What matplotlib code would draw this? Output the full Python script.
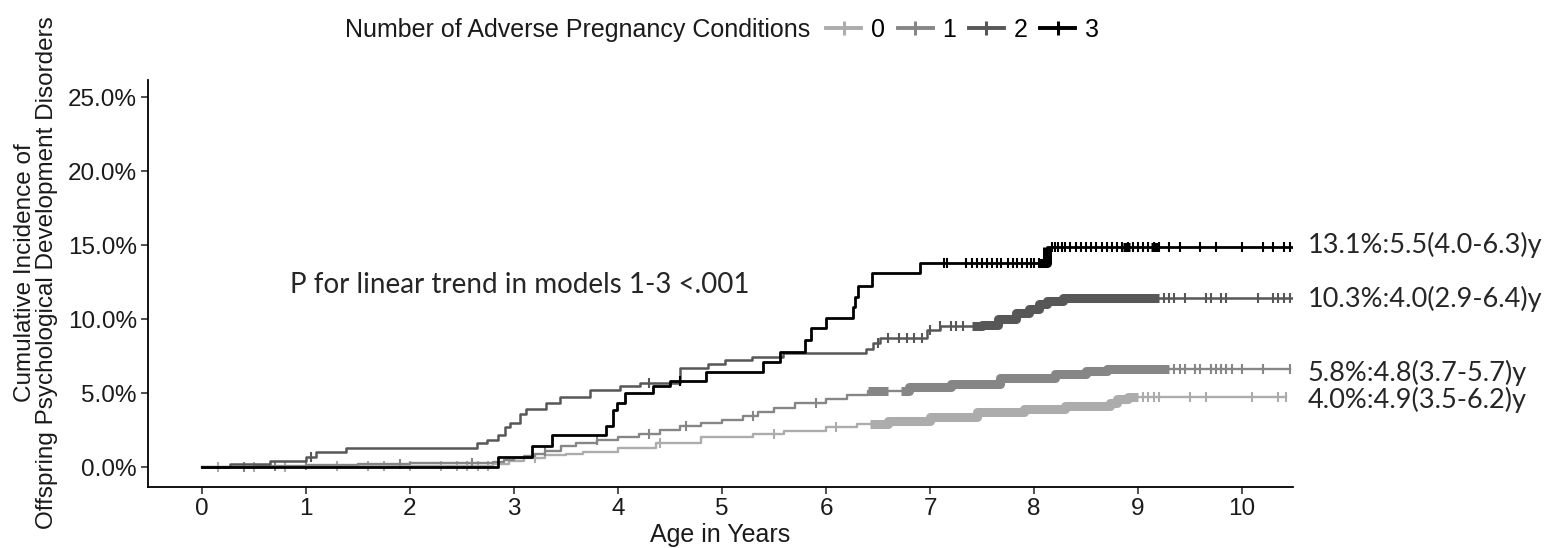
import numpy as np
import matplotlib
matplotlib.use("Agg")
import matplotlib.pyplot as plt
from matplotlib.lines import Line2D

plt.rcParams['font.family'] = ['Liberation Sans', 'DejaVu Sans']

# ---------------- data ----------------
groups = ["0", "1", "2", "3"]
colors = ["#acacac", "#868686", "#575757", "#000000"]
end_times = [10.42, 10.46, 10.48, 10.48]

t0 = [0, 1.0, 2.0, 2.8, 2.95, 3.1, 3.3, 3.5, 3.66, 4.0, 4.37, 4.8, 5.0, 5.3,
      5.6, 6.0, 6.3, 6.6, 7.0, 7.45, 7.9, 8.3, 8.73, 8.8, 8.9]
v0 = [0, 0.05, 0.1, 0.2, 0.4, 0.6, 0.8, 0.9, 1.0, 1.3, 1.6, 2.0, 2.05, 2.25,
      2.45, 2.7, 2.9, 3.1, 3.35, 3.7, 3.95, 4.1, 4.35, 4.6, 4.75]

t1 = [0, 0.5, 1.0, 1.5, 2.0, 2.5, 2.8, 2.9, 3.0, 3.1, 3.2, 3.3, 3.45, 3.6,
      3.8, 4.0, 4.2, 4.4, 4.6, 4.8, 5.0, 5.2, 5.35, 5.5, 5.7, 6.0, 6.2, 6.4,
      6.8, 7.2, 7.67, 8.2, 8.5, 8.7]
v1 = [0, 0.1, 0.15, 0.2, 0.25, 0.3, 0.35, 0.45, 0.6, 0.75, 0.9, 1.1, 1.4, 1.6,
      1.85, 2.05, 2.25, 2.5, 2.75, 3.0, 3.2, 3.45, 3.7, 4.0, 4.3, 4.6, 4.9, 5.15,
      5.4, 5.6, 6.0, 6.3, 6.5, 6.6]

t2 = [0, 0.27, 0.65, 1.0, 1.1, 1.38, 2.64, 2.74, 2.85, 2.91, 2.96, 3.06, 3.12,
      3.31, 3.44, 3.73, 4.02, 4.21, 4.6, 4.87, 5.03, 5.29, 5.59, 6.38, 6.45,
      6.52, 6.97, 7.1, 7.5, 7.65, 7.83, 7.95, 8.05, 8.12, 8.28]
v2 = [0, 0.2, 0.4, 0.7, 1.0, 1.3, 1.6, 1.8, 2.15, 2.7, 3.0, 3.6, 3.9,
      4.35, 4.75, 5.2, 5.45, 5.65, 6.7, 6.95, 7.2, 7.45, 7.7, 8.0, 8.4,
      8.7, 9.25, 9.5, 9.6, 10.0, 10.4, 10.7, 11.0, 11.2, 11.4]

t3 = [0, 2.85, 3.17, 3.37, 3.88, 3.95, 3.99, 4.07, 4.34, 4.5, 4.85, 5.39,
      5.56, 5.8, 5.86, 6.0, 6.26, 6.28, 6.31, 6.44, 6.9, 8.12]
v3 = [0, 0.7, 1.4, 2.15, 2.8, 3.85, 4.3, 5.0, 5.5, 5.8, 6.45, 7.1,
      7.8, 8.6, 9.4, 10.1, 10.8, 11.5, 12.2, 13.1, 13.8, 14.9]

times = [t0, t1, t2, t3]
values = [v0, v1, v2, v3]

# censoring ticks (individual) and dense censoring stretches
cens0 = [0.15, 0.5, 0.8, 1.3, 1.6, 1.75, 2.0, 2.3, 2.45, 2.55, 2.65, 2.75,
         3.2, 4.4, 5.5, 6.1, 9.05, 9.1, 9.15, 9.2, 9.5, 9.65, 10.1, 10.35, 10.42]
cens1 = [0.4, 0.7, 1.0, 1.9, 2.6, 3.3, 3.8, 4.3, 4.65, 5.3, 5.9, 9.35, 9.4,
         9.45, 9.55, 9.6, 9.7, 9.75, 9.8, 9.85, 9.9, 10.0, 10.2, 10.46]
cens2 = [1.05, 4.3, 6.5, 6.6, 6.7, 6.78, 6.85, 6.92, 7.0, 7.1, 7.2, 7.25, 7.32,
         9.25, 9.3, 9.35, 9.45, 9.65, 9.7, 9.8, 9.85, 10.15, 10.3, 10.35,
         10.4, 10.46]
cens3 = [4.6, 7.13, 7.16, 7.35, 7.4, 7.45, 7.5, 7.55, 7.6, 7.64, 7.68, 7.75,
         7.8, 7.84, 7.88, 7.93, 7.97, 8.0, 8.05, 8.1, 8.17, 8.2, 8.23, 8.27,
         8.3, 8.35, 8.4, 8.45, 8.5, 8.55, 8.6, 8.65, 8.7, 8.75, 8.8, 8.85,
         8.9, 8.95, 9.0, 9.05, 9.1, 9.15, 9.2, 9.3, 9.4, 9.6, 9.75, 10.0,
         10.2, 10.3, 10.4, 10.46]
censors = [cens0, cens1, cens2, cens3]
dense0 = [(6.42, 9.0)]
dense1 = [(6.4, 6.6), (6.72, 9.3)]
dense2 = [(7.4, 9.2)]
dense3 = [(8.05, 8.12), (8.86, 8.92), (9.12, 9.2)]
dense = [dense0, dense1, dense2, dense3]

median_labels = ["4.0%:4.9(3.5-6.2)y", "5.8%:4.8(3.7-5.7)y",
                 "10.3%:4.0(2.9-6.4)y", "13.1%:5.5(4.0-6.3)y"]
label_y = [4.53, 6.35, 11.35, 15.0]

p_text = "P for linear trend in models 1-3 <.001"
legend_title = "Number of Adverse Pregnancy Conditions"
x_title = "Age in Years"
y_title = "Cumulative Incidence of\nOffspring Psychological Development Disorders"
yticks = [0, 5, 10, 15, 20, 25]
xticks = list(range(0, 11))

# ---------------- figure ----------------
W, H = 1555, 548
fig = plt.figure(figsize=(W / 100, H / 100), dpi=100)
ax = fig.add_axes([148 / W, 1 - 487 / H, (1293 - 148) / W, (487 - 80) / H])
ax.set_xlim(-0.519, 10.49)
ax.set_ylim(-1.35, 26.15)


def step_val(ts, vs, t):
    i = np.searchsorted(ts, t, side='right') - 1
    return vs[max(i, 0)]


lws = [1.7, 1.7, 1.8, 2.0]
for g in range(4):
    ts = list(times[g]) + [end_times[g]]
    vs = list(values[g]) + [values[g][-1]]
    ax.step(ts, vs, where='post', color=colors[g], lw=lws[g], zorder=2 + g)
    # dense censoring bands
    for (a, b) in dense[g]:
        seg_t = [a] + [t for t in times[g] if a < t < b] + [b]
        seg_v = [step_val(times[g], values[g], t) for t in seg_t]
        ax.step(seg_t, seg_v, where='post', color=colors[g], lw=6.5,
                solid_capstyle='butt', zorder=2 + g)
    ct = np.array(censors[g])
    cv = [step_val(times[g], values[g], t) for t in ct]
    ax.plot(ct, cv, ls='none', marker='|', ms=7.5, mew=1.5, color=colors[g],
            zorder=2 + g)

for g in range(4):
    ax.text(10.63, label_y[g], median_labels[g], fontsize=19.5, family='Lato',
            color='#262626', va='center', ha='left', clip_on=False)

ax.text(0.846, 12.3, p_text, fontsize=20, family='Lato', color='#262626',
        va='center', ha='left')

for s in ['top', 'right']:
    ax.spines[s].set_visible(False)
for s in ['left', 'bottom']:
    ax.spines[s].set_linewidth(1.3)
    ax.spines[s].set_color('black')
ax.set_yticks(yticks)
ax.set_yticklabels([f"{v:.1f}%" for v in yticks])
ax.set_xticks(xticks)
ax.set_xticklabels([str(v) for v in xticks])
ax.tick_params(axis='both', length=5, width=1.2, color='#333333',
               labelsize=17.5, labelcolor='#1a1a1a', pad=3)

fig.text(720 / W, 1 - 535 / H, x_title, ha='center', va='center', fontsize=18,
         color='#1a1a1a')
fig.text(36 / W, 1 - 273 / H, y_title, ha='center', va='center', fontsize=17.5,
         rotation=90, color='#1a1a1a', linespacing=0.95)

# legend
fig.text(810 / W, 1 - 30 / H, legend_title, ha='right', va='center',
         fontsize=18, color='#1a1a1a')
handles = [Line2D([0], [0], color=c, lw=2.8, marker='|', ms=10, mew=2.2)
           for c in colors]
fig.legend(handles, groups, loc='center left', bbox_to_anchor=(826 / W, 1 - 30 / H),
           ncol=4, frameon=False, fontsize=18, handlelength=1.4,
           handletextpad=0.4, columnspacing=0.5, borderaxespad=0,
           borderpad=0)

fig.savefig("out.png", dpi=100)
